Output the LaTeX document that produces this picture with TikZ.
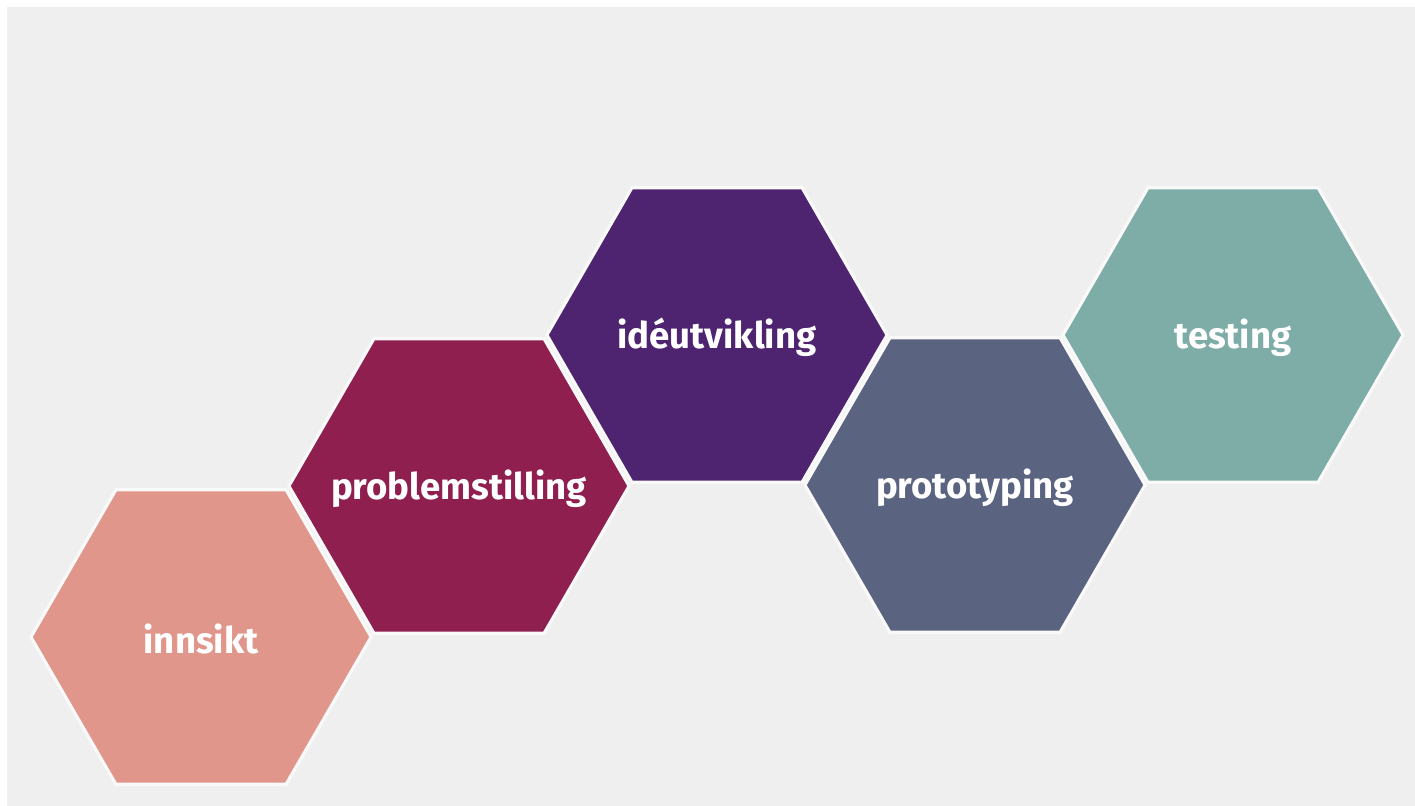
\documentclass[tikz,border=0pt]{standalone}
\usepackage{fontspec}
\setmainfont{Fira Sans}
\usepackage{tikz}
\usetikzlibrary{shapes.geometric}
\definecolor{bggray}{HTML}{EFEFEF}
\definecolor{salmon}{HTML}{E0968A}
\definecolor{wine}{HTML}{8E1F4F}
\definecolor{plum}{HTML}{4E2470}
\definecolor{slate}{HTML}{5A6380}
\definecolor{sage}{HTML}{7EACA6}

\begin{document}
\begin{tikzpicture}[x=0.01cm, y=-0.01cm,
  hexa/.style={regular polygon, regular polygon sides=6, minimum size=3.4cm, inner sep=0pt,
    draw=white!60!bggray, line width=0.9pt},
  word/.style={text=white, yshift=-0.7pt, font=\fontsize{10.4}{12}\selectfont\bfseries}]
\useasboundingbox (0,0) rectangle (1415,806);
\fill [white] (0,0) rectangle (1415,806);
\fill [bggray] (7,7) rectangle (1415,806);
\node (a) at (201, 637) [hexa, fill=salmon, label={[word]center:innsikt}] {};
\node (b) at (459, 486) [hexa, fill=wine, label={[word]center:problemstilling}] {};
\node (c) at (717, 335) [hexa, fill=plum, label={[word]center:idéutvikling}] {};
\node (d) at (975, 485) [hexa, fill=slate, label={[word]center:prototyping}] {};
\node (e) at (1233, 335) [hexa, fill=sage, label={[word]center:testing}] {};
\end{tikzpicture}
\end{document}
